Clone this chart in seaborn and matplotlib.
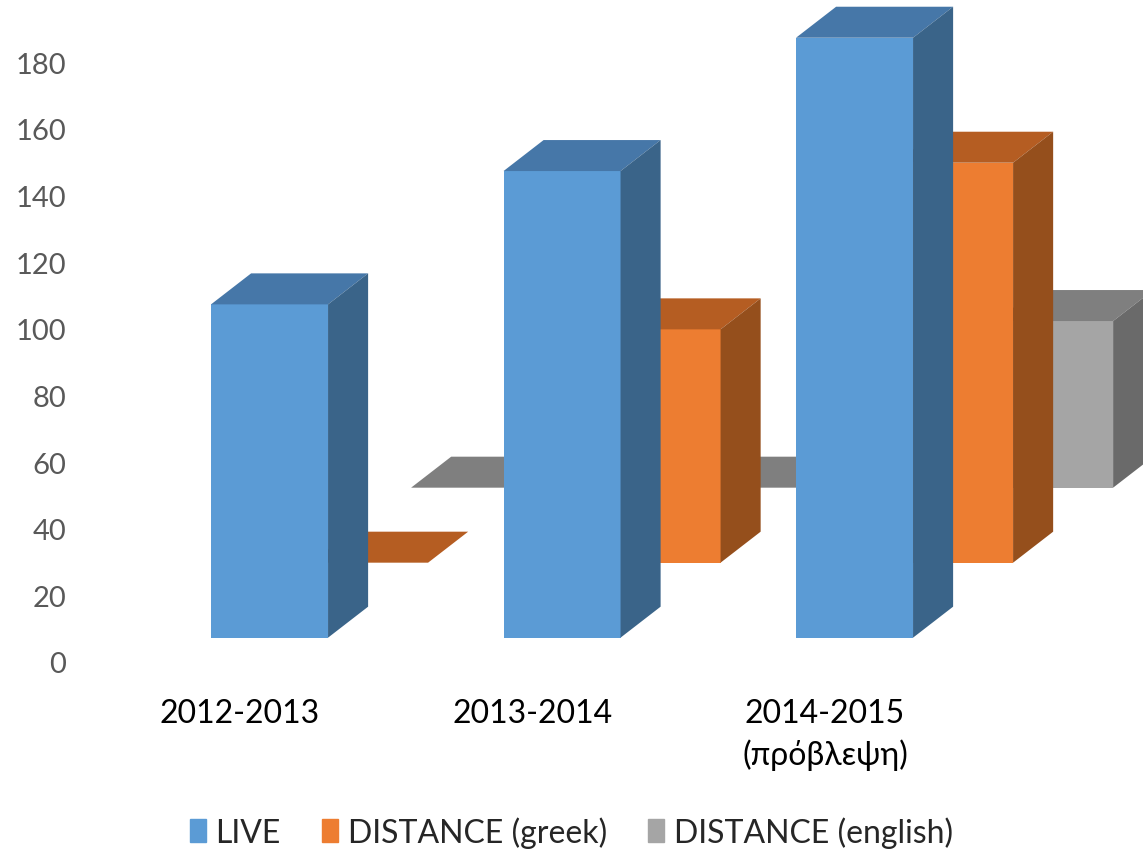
import numpy as np
import pandas as pd
import seaborn as sns
import matplotlib.pyplot as plt
from matplotlib.patches import Polygon, Patch

# ---- data ----
categories = ["2012-2013", "2013-2014", "2014-2015\n(πρόβλεψη)"]
series_names = ["LIVE", "DISTANCE (greek)", "DISTANCE (english)"]
live = [100, 140, 180]
greek = [0, 70, 120]
english = [0, 0, 50]
y_ticks = [0, 20, 40, 60, 80, 100, 120, 140, 160, 180]

# ---- style ----
sns.set_theme(style="white")
plt.rcParams['font.family'] = ['Lato', 'DejaVu Sans']

W, H = 1143, 853
fig = plt.figure(figsize=(W / 100, H / 100), dpi=100)
ax = fig.add_axes([80 / W, 190 / H, 1063 / W, 663 / H])

pos = np.arange(len(categories))
# (values, front, top, side, x offset, base, zorder)
rows = [
    (live, "#5B9BD5", "#4677A8", "#3A6489", 0.101, 7.3, 3),
    (greek, "#ED7D31", "#B55D22", "#954F1C", 0.443, 29.8, 2),
    (english, "#A5A5A5", "#7F7F7F", "#6A6A6A", 0.785, 52.3, 1),
]
dx, dy = 0.137, 9.3

for vals, front, top, side, xoff, base, z in reversed(rows):
    n0 = len(ax.patches)
    df = pd.DataFrame({"x": pos + xoff, "v": vals})
    sns.barplot(data=df, x="x", y="v", native_scale=True, orient="x",
                width=0.4, color=front, saturation=1, errorbar=None,
                bottom=base, zorder=z, linewidth=0, ax=ax)
    for p in ax.patches[n0:]:
        x0, y0, w, h = p.get_x(), p.get_y(), p.get_width(), p.get_height()
        ax.add_patch(Polygon([(x0, y0 + h), (x0 + dx, y0 + h + dy),
                              (x0 + w + dx, y0 + h + dy), (x0 + w, y0 + h)],
                             closed=True, fc=top, ec="none", zorder=z))
        if h > 0:
            ax.add_patch(Polygon([(x0 + w, y0), (x0 + w + dx, y0 + dy),
                                  (x0 + w + dx, y0 + h + dy), (x0 + w, y0 + h)],
                                 closed=True, fc=side, ec="none", zorder=z))

ax.set_xlim(-160 / 292.5, 903 / 292.5)
ax.set_ylim(0, 663 / 3.333)
ax.set_xticks(pos)
ax.set_xticklabels(categories, fontsize=23, color="black", linespacing=1.42)
ax.set_yticks(y_ticks)
ax.set_yticklabels([str(t) for t in y_ticks], fontsize=21, color="#595959")
ax.tick_params(axis="x", length=0, pad=26)
ax.tick_params(axis="y", length=0, pad=10)
ax.set_xlabel("")
ax.set_ylabel("")
for s in ax.spines.values():
    s.set_visible(False)
ax.grid(False)

handles = [Patch(color=r[1]) for r in rows]
fig.legend(handles, series_names, loc="center", bbox_to_anchor=(0.5, 1 - 833 / H),
           ncol=3, frameon=False, fontsize=23, handlelength=0.5, handleheight=0.75,
           handletextpad=0.3, columnspacing=1.3)

fig.savefig("out.png", dpi=100)
